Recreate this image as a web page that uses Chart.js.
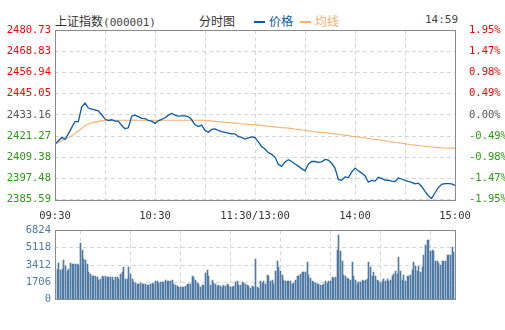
<!DOCTYPE html>
<html>
<head>
<meta charset="utf-8">
<script src="https://cdn.jsdelivr.net/npm/chart.js@4.4.1/dist/chart.umd.min.js"></script>
<style>
  html, body { margin: 0; padding: 0; background: #fff; }
  #wrap { position: relative; width: 505px; height: 330px; overflow: hidden; }
  canvas { position: absolute; left: 0; }
  #priceChart { top: 0; }
  #volChart { top: 220px; }
  .hd { position: absolute; top: 13px; font: 12px "Noto Sans CJK SC", sans-serif; color: #333; white-space: nowrap; line-height: 16px; }
  .code { font: 11px "DejaVu Sans Mono", monospace; color: #444; }
  .swatch { display: inline-block; width: 11px; height: 2px; vertical-align: middle; margin-right: 4px; position: relative; top: -1px; }
</style>
</head>
<body>
<div id="wrap">
  <div class="hd" style="left:55px">上证指数<span class="code">(000001)</span></div>
  <div class="hd" style="left:199px">分时图</div>
  <div class="hd" style="left:254px;color:#0a5aa8"><span class="swatch" style="background:#0a5aa8"></span>价格</div>
  <div class="hd" style="left:300px;color:#f5b06a"><span class="swatch" style="background:#f5b06a"></span>均线</div>
  <div class="hd code" style="left:425px;font-size:11px;color:#444">14:59</div>
  <canvas id="priceChart" width="505" height="220"></canvas>
  <canvas id="volChart" width="505" height="90"></canvas>
</div>
<script>
// previous close and axis range
const prevClose = 2433.16;
const priceTicks = [2385.59, 2397.48, 2409.38, 2421.27, 2433.16, 2445.05, 2456.94, 2468.83, 2480.73];
const pctLabels = ['-1.95%', '-1.47%', '-0.98%', '-0.49%', '0.00%', '0.49%', '0.98%', '1.47%', '1.95%'];
const timeLabels = ['09:30', '10:30', '11:30/13:00', '14:00', '15:00'];
const volTicks = [0, 1706, 3412, 5118, 6824];

// index level every 2 trading minutes, 09:30 .. 15:00
const price = [
  2416.8, 2418.5, 2420.5, 2419.4, 2422.5, 2426.0, 2429.4, 2429.4, 2437.5, 2439.7,
  2437.0, 2436.4, 2436.0, 2435.4, 2433.2, 2430.8, 2430.0, 2430.4, 2429.6, 2429.6,
  2427.2, 2425.4, 2425.9, 2432.4, 2433.0, 2432.2, 2431.2, 2431.0, 2430.0, 2429.6,
  2428.4, 2429.8, 2430.6, 2431.5, 2433.0, 2433.9, 2433.0, 2432.4, 2432.6, 2432.6,
  2432.2, 2430.4, 2427.6, 2426.6, 2427.4, 2424.4, 2423.4, 2425.0, 2425.3, 2424.4,
  2423.8, 2423.3, 2422.9, 2422.5, 2422.5, 2421.0, 2420.5, 2419.6, 2420.2, 2420.8,
  2420.4, 2418.0, 2415.4, 2414.0, 2412.0, 2411.0, 2409.5, 2405.5, 2404.3, 2406.8,
  2408.0, 2407.0, 2405.6, 2404.4, 2403.0, 2401.8, 2405.5, 2407.0, 2407.0, 2406.5,
  2406.8, 2408.2, 2407.8, 2406.0, 2403.3, 2397.0, 2396.5, 2398.4, 2398.0, 2401.0,
  2403.3, 2401.8, 2400.5, 2399.0, 2395.5, 2396.4, 2396.0, 2398.2, 2397.5, 2396.6,
  2396.5, 2396.0, 2395.8, 2397.7, 2397.2, 2396.4, 2395.8, 2395.3, 2394.5, 2394.9,
  2393.0, 2390.2, 2387.8, 2386.2, 2389.5, 2392.4, 2394.2, 2394.6, 2394.6, 2394.5,
  2393.6
];

// average price line, same sampling
const avgPrice = [
  2416.8, 2417.5, 2418.6, 2419.6, 2420.3, 2421.4, 2422.8, 2424.0, 2425.6, 2427.0,
  2428.0, 2428.7, 2429.1, 2429.5, 2429.8, 2430.0, 2430.1, 2430.1, 2430.1, 2430.1,
  2430.1, 2430.1, 2430.1, 2430.1, 2430.1, 2430.1, 2430.1, 2430.1, 2430.1, 2430.1,
  2430.1, 2430.1, 2430.1, 2430.1, 2430.1, 2430.1, 2430.1, 2430.1, 2430.1, 2430.1,
  2430.1, 2430.1, 2430.1, 2430.1, 2430.1, 2430.1, 2429.9, 2429.7, 2429.5, 2429.3,
  2429.2, 2429.0, 2428.8, 2428.6, 2428.5, 2428.3, 2428.2, 2428.0, 2427.8, 2427.7,
  2427.6, 2427.4, 2427.2, 2427.0, 2426.8, 2426.6, 2426.4, 2426.2, 2426.0, 2425.9,
  2425.7, 2425.5, 2425.2, 2425.0, 2424.7, 2424.5, 2424.2, 2424.0, 2423.7, 2423.5,
  2423.3, 2423.1, 2422.9, 2422.7, 2422.5, 2422.3, 2422.0, 2421.8, 2421.5, 2421.2,
  2421.0, 2420.8, 2420.5, 2420.2, 2420.0, 2419.6, 2419.4, 2419.2, 2418.9, 2418.6,
  2418.2, 2418.0, 2417.7, 2417.5, 2417.2, 2416.9, 2416.7, 2416.4, 2416.2, 2416.0,
  2415.7, 2415.5, 2415.3, 2415.1, 2414.9, 2414.8, 2414.7, 2414.6, 2414.6, 2414.5,
  2414.5
];

// per-minute volume, morning 09:31-11:30 and afternoon 13:01-14:59
const volAM = [
  3055, 3600, 2960, 3055, 3930, 3280, 2860, 3055, 3600, 3510,
  3510, 3510, 3510, 3445, 5560, 4900, 4030, 3930, 3510, 2730,
  2535, 2370, 2370, 2370, 2240, 1980, 2080, 2370, 2240, 2370,
  2210, 2210, 2210, 2210, 1980, 2210, 2275, 2080, 2535, 2730,
  3185, 2080, 2080, 3250, 2535, 2080, 1720, 1660, 1590, 1495,
  1660, 1590, 1590, 1495, 1400, 1400, 1590, 1660, 1590, 1820,
  1885, 1660, 1720, 1720, 1720, 1920, 1820, 1820, 1885, 1920,
  1560, 1430, 1365, 1270, 1270, 1270, 1270, 1365, 1495, 1495,
  1590, 2370, 2240, 1980, 1660, 1495, 1270, 1400, 1430, 2630,
  2960, 2305, 1430, 1980, 1660, 1495, 1330, 1400, 1330, 1235,
  1400, 1330, 1495, 1400, 1235, 1235, 1330, 1755, 1885, 1400,
  1400, 1720, 1660, 1495, 1430, 1330, 1170, 1330, 1235, 4030
];
const volPM = [
  1235, 1105, 1820, 1660, 1885, 1495, 2470, 2305, 1820, 1980,
  1560, 2795, 3770, 3185, 2795, 2470, 1980, 1885, 1820, 1820,
  1885, 1560, 1660, 1980, 2370, 2370, 2570, 2700, 2700, 2700,
  3670, 2470, 2145, 1885, 1720, 1660, 1590, 1590, 1430, 1430,
  1590, 1885, 1660, 1820, 1820, 2210, 2145, 2210, 4900, 6370,
  4745, 3835, 2470, 2305, 2145, 2045, 1980, 3670, 2370, 1980,
  1495, 1720, 1720, 1980, 1820, 1980, 2045, 3670, 3215, 2370,
  2730, 2370, 1920, 1820, 1660, 1885, 2045, 1885, 2045, 1885,
  1980, 2370, 2570, 2860, 2570, 4160, 2860, 1980, 2470, 1885,
  2370, 2370, 2470, 2960, 3670, 3350, 2860, 3350, 2730, 3215,
  4420, 5395, 5880, 5880, 4810, 4900, 4745, 3835, 3770, 3600,
  3380, 3835, 3835, 3835, 4420, 4355, 4420, 5200, 4650
];

const GRID = '#d6d6d6';
const MONO = '"DejaVu Sans Mono", monospace';

// frame around the plot area
const frame = {
  id: 'frame',
  afterDraw(chart) {
    const a = chart.chartArea, c = chart.ctx;
    c.save();
    c.strokeStyle = '#8a8a8a';
    c.lineWidth = 1;
    c.strokeRect(Math.round(a.left) + 0.5, Math.round(a.top) + 0.5,
      Math.round(a.right - a.left), Math.round(a.bottom - a.top));
    c.restore();
  }
};

// snap the 1px volume bars to whole pixels so they stay crisp
const crispBars = {
  id: 'crispBars',
  beforeDatasetsDraw(chart) {
    chart.getDatasetMeta(0).data.forEach(b => {
      b.x = Math.round(b.x) + 0.5;
      b.y = Math.round(b.y);
      b.base = Math.round(b.base);
      b.width = 1;
    });
  }
};

function levelColor(v) {
  if (Math.abs(v - prevClose) < 0.005) return '#555';
  return v > prevClose ? '#ff0000' : '#2a9a10';
}

function timeAxis(showLabels) {
  return {
    type: 'linear', min: 0, max: 240,
    grid: { color: GRID, drawTicks: false },
    border: { display: false, dash: [4, 3] },
    ticks: {
      display: showLabels, stepSize: 30, autoSkip: false, maxRotation: 0, padding: 10,
      color: '#333', font: { family: MONO, size: 10.5 },
      callback: v => (v % 60 === 0 ? timeLabels[v / 60] : '')
    },
    afterFit: s => { s.height = showLabels ? 20 : 0; }
  };
}

new Chart(document.getElementById('priceChart'), {
  type: 'line',
  data: {
    datasets: [
      {
        data: price.map((p, i) => ({ x: i * 2, y: p })),
        borderColor: '#0a5aa8', borderWidth: 1.3, pointRadius: 0, tension: 0
      },
      {
        data: avgPrice.map((p, i) => ({ x: i * 2, y: p })),
        borderColor: '#f5b06a', borderWidth: 1.1, pointRadius: 0, tension: 0
      }
    ]
  },
  options: {
    responsive: false, animation: false,
    layout: { padding: { top: 30, left: 0, right: 0, bottom: 0 } },
    plugins: { legend: { display: false }, tooltip: { enabled: false } },
    scales: {
      x: timeAxis(true),
      y: {
        position: 'left', min: priceTicks[0], max: priceTicks[priceTicks.length - 1],
        afterBuildTicks: s => { s.ticks = priceTicks.map(v => ({ value: v })); },
        grid: { color: GRID, drawTicks: false },
        border: { display: false, dash: [4, 3] },
        ticks: {
          padding: 4, font: { family: MONO, size: 10.5 },
          color: c => levelColor(c.tick.value),
          callback: v => v.toFixed(2)
        },
        afterFit: s => { s.width = 55; }
      },
      y2: {
        position: 'right', min: priceTicks[0], max: priceTicks[priceTicks.length - 1],
        afterBuildTicks: s => { s.ticks = priceTicks.map(v => ({ value: v })); },
        grid: { display: false, drawTicks: false },
        border: { display: false },
        ticks: {
          padding: 14, font: { family: MONO, size: 10.5 },
          color: c => levelColor(c.tick.value),
          callback: (v, i) => pctLabels[i]
        },
        afterFit: s => { s.width = 50; }
      }
    }
  },
  plugins: [frame]
});

const volData = volAM.map((v, i) => ({ x: i + 1, y: v }))
  .concat(volPM.map((v, i) => ({ x: 121 + i, y: v })));

new Chart(document.getElementById('volChart'), {
  type: 'bar',
  data: {
    datasets: [{
      data: volData, backgroundColor: '#4f7aa3',
      barThickness: 1, borderWidth: 0
    }]
  },
  options: {
    responsive: false, animation: false,
    layout: { padding: { top: 10, left: 0, right: 50, bottom: 0 } },
    plugins: { legend: { display: false }, tooltip: { enabled: false } },
    scales: {
      x: Object.assign(timeAxis(false), { offset: false }),
      y: {
        position: 'left', min: 0, max: volTicks[volTicks.length - 1],
        afterBuildTicks: s => { s.ticks = volTicks.map(v => ({ value: v })); },
        grid: { color: GRID, drawTicks: false },
        border: { display: false, dash: [4, 3] },
        ticks: {
          padding: 4, color: '#4f7aa3', font: { family: MONO, size: 10.5 },
          callback: v => String(v)
        },
        afterFit: s => { s.width = 55; }
      }
    }
  },
  plugins: [crispBars, frame]
});
</script>
</body>
</html>
